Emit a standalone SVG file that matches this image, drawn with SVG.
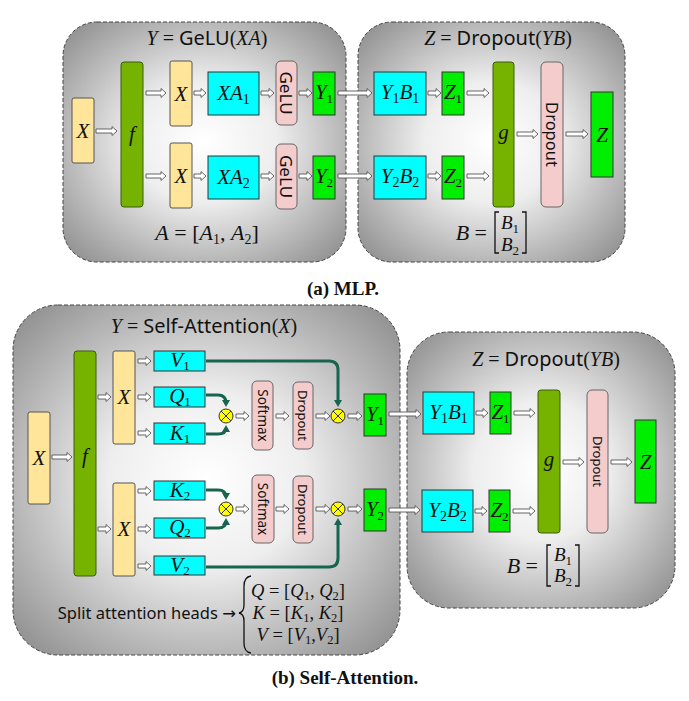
<svg xmlns="http://www.w3.org/2000/svg" width="689" height="701" viewBox="0 0 689 701">
<style>
.m{font-family:"Liberation Serif","DejaVu Serif",serif;font-style:italic;fill:#111}
.u{font-family:"Liberation Serif","DejaVu Serif",serif;font-style:normal;fill:#111}
.s{font-family:"Noto Sans","DejaVu Sans",sans-serif;font-style:normal;fill:#111}
.lbl{font-family:"Liberation Serif","DejaVu Serif",serif;font-style:italic;fill:#111;font-size:21px;text-anchor:middle}
.rot{font-family:"Noto Sans","DejaVu Sans",sans-serif;fill:#111;text-anchor:middle;dominant-baseline:central}
.panel{fill:url(#pg);stroke:#444;stroke-width:1;stroke-dasharray:4 2}
.xb{fill:#ffe599;stroke:#555;stroke-width:1}
.fb{fill:#76b300;stroke:#3d5c0a;stroke-width:1}
.cy{fill:#00ffff;stroke:#333;stroke-width:1}
.pk{fill:#f4cccc;stroke:#666;stroke-width:1}
.gr{fill:#00ee00;stroke:#333;stroke-width:1}
.ar{fill:#fff;stroke:#555;stroke-width:0.9}
.tl{fill:none;stroke:#17644f;stroke-width:3;marker-end:url(#th)}
.ot{fill:#ffff00;stroke:#333;stroke-width:1}
.otx{stroke:#333;stroke-width:1}
.br{fill:none;stroke:#111;stroke-width:1.3}
.cap{font-family:"Liberation Serif","DejaVu Serif",serif;font-weight:bold;font-size:19px;fill:#111;text-anchor:middle}
</style>
<defs>
<radialGradient id="pg" cx="0.5" cy="0.5" r="0.72">
<stop offset="0" stop-color="#ffffff"/>
<stop offset="0.35" stop-color="#eeeeee"/>
<stop offset="1" stop-color="#858585"/>
</radialGradient>
<marker id="th" markerUnits="userSpaceOnUse" markerWidth="9" markerHeight="9" refX="4" refY="4.5" orient="auto">
<path d="M0,0.5 L7,4.5 L0,8.5 z" fill="#17644f"/>
</marker>
</defs>

<!-- panels -->
<g id="panels">
<rect id="mlp-a" class="panel" x="63" y="22" width="283" height="240" rx="34"/>
<rect id="mlp-b" class="panel" x="358" y="22" width="267" height="240" rx="34"/>
<rect id="sa-a" class="panel" x="13" y="305" width="387" height="350" rx="45"/>
<rect id="sa-b" class="panel" x="407" y="332" width="268" height="276" rx="42"/>
</g>

<!-- panel texts -->
<g id="mlp-texts">
<text x="207" y="45" text-anchor="middle" font-size="20"><tspan class="m">Y</tspan><tspan class="u"> = </tspan><tspan class="s">GeLU</tspan><tspan class="u">(</tspan><tspan class="m">XA</tspan><tspan class="u">)</tspan></text>
<text x="207" y="240" text-anchor="middle" font-size="22"><tspan class="m">A</tspan><tspan class="u"> = [</tspan><tspan class="m">A</tspan><tspan class="u" font-size="14" dy="4">1</tspan><tspan class="u" dy="-4">, </tspan><tspan class="m">A</tspan><tspan class="u" font-size="14" dy="4">2</tspan><tspan class="u" dy="-4">]</tspan></text>
<text x="498" y="45" text-anchor="middle" font-size="20"><tspan class="m">Z</tspan><tspan class="u"> = </tspan><tspan class="s">Dropout</tspan><tspan class="u">(</tspan><tspan class="m">YB</tspan><tspan class="u">)</tspan></text>
<text x="487" y="240" text-anchor="end" font-size="22"><tspan class="m">B</tspan><tspan class="u"> =</tspan></text>
<path class="br" d="M499,212 H495 V253 H499 M522,212 H526 V253 H522"/>
<text x="510" y="229" text-anchor="middle" font-size="19"><tspan class="m">B</tspan><tspan class="u" font-size="13" dy="4">1</tspan></text>
<text x="510" y="251" text-anchor="middle" font-size="19"><tspan class="m">B</tspan><tspan class="u" font-size="13" dy="4">2</tspan></text>
<text class="cap" x="343" y="295">(a) MLP.</text>
</g>

<g id="sa-texts">
<text x="204" y="333" text-anchor="middle" font-size="20"><tspan class="m">Y</tspan><tspan class="u"> = </tspan><tspan class="s">Self-Attention</tspan><tspan class="u">(</tspan><tspan class="m">X</tspan><tspan class="u">)</tspan></text>
<text x="546" y="366" text-anchor="middle" font-size="20"><tspan class="m">Z</tspan><tspan class="u"> = </tspan><tspan class="s">Dropout</tspan><tspan class="u">(</tspan><tspan class="m">YB</tspan><tspan class="u">)</tspan></text>
<text x="538" y="573" text-anchor="end" font-size="22"><tspan class="m">B</tspan><tspan class="u"> =</tspan></text>
<path class="br" d="M551,545 H547 V586 H551 M575,545 H579 V586 H575"/>
<text x="563" y="561" text-anchor="middle" font-size="19"><tspan class="m">B</tspan><tspan class="u" font-size="13" dy="4">1</tspan></text>
<text x="563" y="582" text-anchor="middle" font-size="19"><tspan class="m">B</tspan><tspan class="u" font-size="13" dy="4">2</tspan></text>
<text class="s" x="236" y="619" text-anchor="end" font-size="16.5">Split attention heads →</text>
<path class="br" d="M251,576 Q244,577 244,586 L244,605 Q244,612 239,613 Q244,614 244,621 L244,643 Q244,652 251,653"/>
<text x="298" y="597" text-anchor="middle" font-size="18.5"><tspan class="m">Q</tspan><tspan class="u"> = [</tspan><tspan class="m">Q</tspan><tspan class="u" font-size="12.5" dy="3">1</tspan><tspan class="u" dy="-3">, </tspan><tspan class="m">Q</tspan><tspan class="u" font-size="12.5" dy="3">2</tspan><tspan class="u" dy="-3">]</tspan></text>
<text x="298" y="619" text-anchor="middle" font-size="18.5"><tspan class="m">K</tspan><tspan class="u"> = [</tspan><tspan class="m">K</tspan><tspan class="u" font-size="12.5" dy="3">1</tspan><tspan class="u" dy="-3">, </tspan><tspan class="m">K</tspan><tspan class="u" font-size="12.5" dy="3">2</tspan><tspan class="u" dy="-3">]</tspan></text>
<text x="298" y="641" text-anchor="middle" font-size="18.5"><tspan class="m">V</tspan><tspan class="u"> = [</tspan><tspan class="m">V</tspan><tspan class="u" font-size="12.5" dy="3">1</tspan><tspan class="u" dy="-3">,</tspan><tspan class="m">V</tspan><tspan class="u" font-size="12.5" dy="3">2</tspan><tspan class="u" dy="-3">]</tspan></text>
<text class="cap" x="345" y="684">(b) Self-Attention.</text>
</g>

<!-- MLP nodes -->
<g id="mlp-x"><rect class="xb" x="72" y="98" width="22" height="65" rx="2"/><text class="lbl" x="83" y="138">X</text></g>
<g id="mlp-f"><rect class="fb" x="121" y="62" width="22" height="145" rx="3"/><text class="lbl" x="132" y="141">f</text></g>
<g id="mlp-x1"><rect class="xb" x="170" y="61" width="22" height="65" rx="2"/><text class="lbl" x="181" y="101">X</text></g>
<g id="mlp-x2"><rect class="xb" x="170" y="143" width="22" height="65" rx="2"/><text class="lbl" x="181" y="183">X</text></g>
<g id="mlp-xa1"><rect class="cy" x="208" y="72" width="51" height="43"/><text class="lbl" x="233.5" y="100">XA<tspan class="u" font-size="14" dy="4">1</tspan></text></g>
<g id="mlp-xa2"><rect class="cy" x="208" y="156" width="51" height="43"/><text class="lbl" x="233.5" y="184">XA<tspan class="u" font-size="14" dy="4">2</tspan></text></g>
<g id="mlp-gelu1"><rect class="pk" x="276" y="61" width="21" height="64" rx="5"/><text class="rot" font-size="17" transform="translate(286.5,93) rotate(90)">GeLU</text></g>
<g id="mlp-gelu2"><rect class="pk" x="276" y="144" width="21" height="65" rx="5"/><text class="rot" font-size="17" transform="translate(286.5,176.5) rotate(90)">GeLU</text></g>
<g id="mlp-y1"><rect class="gr" x="313" y="72" width="22" height="43"/><text class="lbl" x="324" y="99" font-size="19">Y<tspan class="u" font-size="13" dy="4">1</tspan></text></g>
<g id="mlp-y2"><rect class="gr" x="313" y="156" width="22" height="43"/><text class="lbl" x="324" y="183" font-size="19">Y<tspan class="u" font-size="13" dy="4">2</tspan></text></g>
<g id="mlp-y1b1"><rect class="cy" x="374" y="72" width="52" height="43"/><text class="lbl" x="400" y="99" font-size="20">Y<tspan class="u" font-size="14" dy="4">1</tspan><tspan dy="-4">B</tspan><tspan class="u" font-size="14" dy="4">1</tspan></text></g>
<g id="mlp-y2b2"><rect class="cy" x="374" y="156" width="52" height="43"/><text class="lbl" x="400" y="183" font-size="20">Y<tspan class="u" font-size="14" dy="4">2</tspan><tspan dy="-4">B</tspan><tspan class="u" font-size="14" dy="4">2</tspan></text></g>
<g id="mlp-z1"><rect class="gr" x="442" y="72" width="22" height="43"/><text class="lbl" x="453" y="99" font-size="19">Z<tspan class="u" font-size="13" dy="4">1</tspan></text></g>
<g id="mlp-z2"><rect class="gr" x="442" y="156" width="22" height="43"/><text class="lbl" x="453" y="183" font-size="19">Z<tspan class="u" font-size="13" dy="4">2</tspan></text></g>
<g id="mlp-g"><rect class="fb" x="493" y="62" width="21" height="145" rx="3"/><text class="lbl" x="503.5" y="139">g</text></g>
<g id="mlp-dropout"><rect class="pk" x="541" y="62" width="22" height="145" rx="5"/><text class="rot" font-size="16.5" transform="translate(552,134.5) rotate(90)">Dropout</text></g>
<g id="mlp-z"><rect class="gr" x="591" y="92" width="22" height="85"/><text class="lbl" x="602" y="142">Z</text></g>

<!-- Self-attention nodes -->
<g id="sa-x"><rect class="xb" x="28" y="412" width="22" height="92" rx="2"/><text class="lbl" x="39" y="465">X</text></g>
<g id="sa-f"><rect class="fb" x="74" y="351" width="22" height="225" rx="3"/><text class="lbl" x="85" y="463">f</text></g>
<g id="sa-x1"><rect class="xb" x="113" y="351" width="22" height="93" rx="2"/><text class="lbl" x="124" y="404">X</text></g>
<g id="sa-x2"><rect class="xb" x="113" y="483" width="22" height="93" rx="2"/><text class="lbl" x="124" y="536">X</text></g>
<g id="sa-v1"><rect class="cy" x="154" y="351" width="51" height="20"/><text class="lbl" x="180" y="367" font-size="19">V<tspan class="u" font-size="13" dy="3">1</tspan></text></g>
<g id="sa-q1"><rect class="cy" x="154" y="387" width="51" height="20"/><text class="lbl" x="180" y="403" font-size="19">Q<tspan class="u" font-size="13" dy="3">1</tspan></text></g>
<g id="sa-k1"><rect class="cy" x="154" y="423" width="51" height="21"/><text class="lbl" x="180" y="440" font-size="19">K<tspan class="u" font-size="13" dy="3">1</tspan></text></g>
<g id="sa-k2"><rect class="cy" x="154" y="481" width="51" height="19"/><text class="lbl" x="180" y="497" font-size="19">K<tspan class="u" font-size="13" dy="3">2</tspan></text></g>
<g id="sa-q2"><rect class="cy" x="154" y="518" width="51" height="20"/><text class="lbl" x="180" y="534" font-size="19">Q<tspan class="u" font-size="13" dy="3">2</tspan></text></g>
<g id="sa-v2"><rect class="cy" x="154" y="556" width="51" height="19"/><text class="lbl" x="180" y="572" font-size="19">V<tspan class="u" font-size="13" dy="3">2</tspan></text></g>
<g id="sa-mul1"><circle class="ot" cx="226" cy="416" r="7"/><path class="otx" d="M221,411 L231,421 M231,411 L221,421"/></g>
<g id="sa-softmax1"><rect class="pk" x="252" y="381" width="21" height="69" rx="5"/><text class="rot" font-size="13.5" transform="translate(262.5,415.5) rotate(90)">Softmax</text></g>
<g id="sa-dropout1"><rect class="pk" x="293" y="382" width="20" height="67" rx="5"/><text class="rot" font-size="13" transform="translate(303,415.5) rotate(90)">Dropout</text></g>
<g id="sa-mul2"><circle class="ot" cx="338" cy="416" r="7"/><path class="otx" d="M333,411 L343,421 M343,411 L333,421"/></g>
<g id="sa-y1"><rect class="gr" x="364" y="394" width="22" height="42"/><text class="lbl" x="375" y="421" font-size="19">Y<tspan class="u" font-size="13" dy="4">1</tspan></text></g>
<g id="sa-mul3"><circle class="ot" cx="226" cy="509" r="7"/><path class="otx" d="M221,504 L231,514 M231,504 L221,514"/></g>
<g id="sa-softmax2"><rect class="pk" x="252" y="475" width="22" height="68" rx="5"/><text class="rot" font-size="13.5" transform="translate(263,509) rotate(90)">Softmax</text></g>
<g id="sa-dropout2"><rect class="pk" x="293" y="476" width="20" height="67" rx="5"/><text class="rot" font-size="13" transform="translate(303,509.5) rotate(90)">Dropout</text></g>
<g id="sa-mul4"><circle class="ot" cx="338" cy="509" r="7"/><path class="otx" d="M333,504 L343,514 M343,504 L333,514"/></g>
<g id="sa-y2"><rect class="gr" x="364" y="489" width="22" height="42"/><text class="lbl" x="375" y="516" font-size="19">Y<tspan class="u" font-size="13" dy="4">2</tspan></text></g>
<g id="sa-y1b1"><rect class="cy" x="423" y="392" width="51" height="42"/><text class="lbl" x="448.5" y="419" font-size="20">Y<tspan class="u" font-size="14" dy="4">1</tspan><tspan dy="-4">B</tspan><tspan class="u" font-size="14" dy="4">1</tspan></text></g>
<g id="sa-y2b2"><rect class="cy" x="422" y="490" width="51" height="42"/><text class="lbl" x="447.5" y="517" font-size="20">Y<tspan class="u" font-size="14" dy="4">2</tspan><tspan dy="-4">B</tspan><tspan class="u" font-size="14" dy="4">2</tspan></text></g>
<g id="sa-z1"><rect class="gr" x="490" y="392" width="21" height="42"/><text class="lbl" x="500.5" y="419" font-size="19">Z<tspan class="u" font-size="13" dy="4">1</tspan></text></g>
<g id="sa-z2"><rect class="gr" x="489" y="490" width="21" height="42"/><text class="lbl" x="499.5" y="517" font-size="19">Z<tspan class="u" font-size="13" dy="4">2</tspan></text></g>
<g id="sa-g"><rect class="fb" x="538" y="390" width="22" height="143" rx="3"/><text class="lbl" x="549" y="466">g</text></g>
<g id="sa-dropout"><rect class="pk" x="587" y="390" width="21" height="143" rx="5"/><text class="rot" font-size="13" transform="translate(597.5,461.5) rotate(90)">Dropout</text></g>
<g id="sa-z"><rect class="gr" x="635" y="420" width="21" height="83"/><text class="lbl" x="645.5" y="469">Z</text></g>

<!-- connectors -->
<g id="connectors">
<polygon class="ar" points="96,129 112,129 112,126.5 117,131 112,135.5 112,133 96,133"/>
<polygon class="ar" points="146,91 161,91 161,88.5 166,93 161,97.5 161,95 146,95"/>
<polygon class="ar" points="146,174 161,174 161,171.5 166,176 161,180.5 161,178 146,178"/>
<polygon class="ar" points="194,91 201,91 201,88.5 206,93 201,97.5 201,95 194,95"/>
<polygon class="ar" points="194,174 201,174 201,171.5 206,176 201,180.5 201,178 194,178"/>
<polygon class="ar" points="261,91 269,91 269,88.5 274,93 269,97.5 269,95 261,95"/>
<polygon class="ar" points="261,174 269,174 269,171.5 274,176 269,180.5 269,178 261,178"/>
<polygon class="ar" points="299,91 307,91 307,88.5 312,93 307,97.5 307,95 299,95"/>
<polygon class="ar" points="299,174 307,174 307,171.5 312,176 307,180.5 307,178 299,178"/>
<polygon class="ar" points="338,91 367,91 367,88.5 372,93 367,97.5 367,95 338,95"/>
<polygon class="ar" points="338,174 367,174 367,171.5 372,176 367,180.5 367,178 338,178"/>
<polygon class="ar" points="428,91 436,91 436,88.5 441,93 436,97.5 436,95 428,95"/>
<polygon class="ar" points="428,174 436,174 436,171.5 441,176 436,180.5 436,178 428,178"/>
<polygon class="ar" points="467,91 484,91 484,88.5 489,93 484,97.5 484,95 467,95"/>
<polygon class="ar" points="467,174 484,174 484,171.5 489,176 484,180.5 484,178 467,178"/>
<polygon class="ar" points="517,132 533,132 533,129.5 538,134 533,138.5 533,136 517,136"/>
<polygon class="ar" points="566,132 583,132 583,129.5 588,134 583,138.5 583,136 566,136"/>

<polygon class="ar" points="52,455 67,455 67,452.5 72,457 67,461.5 67,459 52,459"/>
<polygon class="ar" points="98,395 106,395 106,392.5 111,397 106,401.5 106,399 98,399"/>
<polygon class="ar" points="98,527 106,527 106,524.5 111,529 106,533.5 106,531 98,531"/>
<polygon class="ar" points="138,359 146,359 146,356.5 151,361 146,365.5 146,363 138,363"/>
<polygon class="ar" points="138,395 146,395 146,392.5 151,397 146,401.5 146,399 138,399"/>
<polygon class="ar" points="138,431 146,431 146,428.5 151,433 146,437.5 146,435 138,435"/>
<polygon class="ar" points="138,489 146,489 146,486.5 151,491 146,495.5 146,493 138,493"/>
<polygon class="ar" points="138,527 146,527 146,524.5 151,529 146,533.5 146,531 138,531"/>
<polygon class="ar" points="138,564 146,564 146,561.5 151,566 146,570.5 146,568 138,568"/>
<polygon class="ar" points="236,414 244,414 244,411.5 249,416 244,420.5 244,418 236,418"/>
<polygon class="ar" points="276,414 284,414 284,411.5 289,416 284,420.5 284,418 276,418"/>
<polygon class="ar" points="316,414 325,414 325,411.5 330,416 325,420.5 325,418 316,418"/>
<polygon class="ar" points="348,414 357,414 357,411.5 362,416 357,420.5 357,418 348,418"/>
<polygon class="ar" points="236,507 244,507 244,504.5 249,509 244,513.5 244,511 236,511"/>
<polygon class="ar" points="276,507 284,507 284,504.5 289,509 284,513.5 284,511 276,511"/>
<polygon class="ar" points="316,507 325,507 325,504.5 330,509 325,513.5 325,511 316,511"/>
<polygon class="ar" points="348,507 357,507 357,504.5 362,509 357,513.5 357,511 348,511"/>
<polygon class="ar" points="389,412 416,412 416,409.5 421,414 416,418.5 416,416 389,416"/>
<polygon class="ar" points="389,508 415,508 415,505.5 420,510 415,514.5 415,512 389,512"/>
<polygon class="ar" points="476,411 483,411 483,408.5 488,413 483,417.5 483,415 476,415"/>
<polygon class="ar" points="475,509 482,509 482,506.5 487,511 482,515.5 482,513 475,513"/>
<polygon class="ar" points="514,411 530,411 530,408.5 535,413 530,417.5 530,415 514,415"/>
<polygon class="ar" points="513,509 530,509 530,506.5 535,511 530,515.5 530,513 513,513"/>
<polygon class="ar" points="563,460 579,460 579,457.5 584,462 579,466.5 579,464 563,464"/>
<polygon class="ar" points="611,460 627,460 627,457.5 632,462 627,466.5 627,464 611,464"/>

<path class="tl" d="M206,395 H218 Q226,395 226,403 V404"/>
<path class="tl" d="M206,434 H218 Q226,434 226,428"/>
<path class="tl" d="M206,361 H329 Q338,361 338,370 V404"/>
<path class="tl" d="M206,490 H218 Q226,490 226,497"/>
<path class="tl" d="M206,528 H218 Q226,528 226,521"/>
<path class="tl" d="M206,567 H329 Q338,567 338,558 V521"/>
</g>
</svg>
